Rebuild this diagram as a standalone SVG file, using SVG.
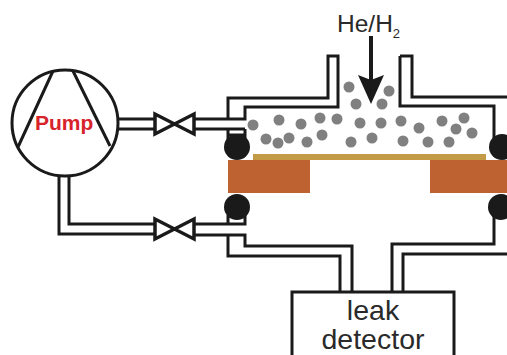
<svg xmlns="http://www.w3.org/2000/svg" width="507" height="355" viewBox="0 0 507 355">
<style>
.w{fill:none;stroke:#1a1a1a;stroke-width:3}
.v{fill:#fff;stroke:#1a1a1a;stroke-width:3.5;stroke-linejoin:miter}
.p{fill:#808080}
.o{fill:#1a1a1a}
.b{fill:#bd6230}
text{font-family:"Liberation Sans",Arial,sans-serif;fill:#2a2a2a}
</style>
<rect width="507" height="355" fill="#fff"/>
<g id="holder">
<rect class="b" x="228" y="160" width="82" height="33"/>
<rect class="b" x="430" y="160" width="77" height="33"/>
<rect x="253" y="154" width="233" height="6" fill="#c39a45"/>
</g>
<g id="connectors">
<path class="w" d="M117 119H155M117 129H155M194 119H228V98H328V56H338V107H245V119H194M194 129H245M228 129V143M245 129V143M228 135H245"/>
<path class="w" d="M59 174V234H155M69 174V224H155M194 224H245V215M228 215V224M194 235H245V246H352V292M228 235V256H340V292M228 216H245"/>
<path class="w" d="M400 56H412V97H507M400 56V106H494V145M494 210V244H392V292M507 254H403V292"/>
</g>
<g id="particles">
<circle class="p" cx="349" cy="87" r="5.5"/><circle class="p" cx="389" cy="91" r="5.5"/><circle class="p" cx="356" cy="104" r="5.5"/><circle class="p" cx="382" cy="104" r="5.5"/>
<circle class="p" cx="253" cy="125" r="5.5"/><circle class="p" cx="279" cy="120" r="5.5"/><circle class="p" cx="301" cy="124" r="5.5"/><circle class="p" cx="320" cy="118" r="5.5"/><circle class="p" cx="337" cy="119" r="5.5"/><circle class="p" cx="360" cy="123" r="5.5"/><circle class="p" cx="381" cy="123" r="5.5"/><circle class="p" cx="401" cy="121" r="5.5"/><circle class="p" cx="419" cy="128" r="5.5"/><circle class="p" cx="442" cy="121" r="5.5"/><circle class="p" cx="464" cy="118" r="5.5"/><circle class="p" cx="456" cy="129" r="5.5"/><circle class="p" cx="472" cy="133" r="5.5"/>
<circle class="p" cx="266" cy="139" r="5.5"/><circle class="p" cx="278" cy="143" r="5.5"/><circle class="p" cx="289" cy="138" r="5.5"/><circle class="p" cx="307" cy="142" r="5.5"/><circle class="p" cx="322" cy="135" r="5.5"/><circle class="p" cx="351" cy="142" r="5.5"/><circle class="p" cx="372" cy="138" r="5.5"/><circle class="p" cx="403" cy="141" r="5.5"/><circle class="p" cx="428" cy="142" r="5.5"/><circle class="p" cx="449" cy="142" r="5.5"/>
</g>
<g id="orings">
<circle class="o" cx="237" cy="147" r="13"/><circle class="o" cx="502" cy="147" r="13"/>
<circle class="o" cx="237" cy="207" r="13"/><circle class="o" cx="501" cy="207" r="13"/>
</g>
<g id="pump">
<circle cx="65" cy="123" r="53" fill="#fff" stroke="#1a1a1a" stroke-width="3"/>
<path class="w" d="M53 71L18 147M73 71L110 146"/>
<text x="35" y="130" font-size="21" font-weight="700" style="fill:#d8232a">Pump</text>
</g>
<g id="valve-top"><path class="v" d="M155 114V134L194 114V134Z"/></g>
<g id="valve-bottom"><path class="v" d="M155 219V239L194 219V239Z"/></g>
<g id="gas-inlet">
<text x="337" y="32" font-size="24.5">He/H<tspan font-size="13" dy="6">2</tspan></text>
<path d="M369 36H373V80H369Z" fill="#1a1a1a"/>
<path d="M358 75L371 80L384 75L371 104Z" fill="#1a1a1a"/>
</g>
<g id="leak-detector">
<rect x="292" y="292" width="162" height="70" fill="#fff" stroke="#1a1a1a" stroke-width="3"/>
<text x="373" y="320" font-size="28.5" text-anchor="middle">leak</text>
<text x="373" y="349" font-size="28.5" text-anchor="middle">detector</text>
</g>
</svg>
